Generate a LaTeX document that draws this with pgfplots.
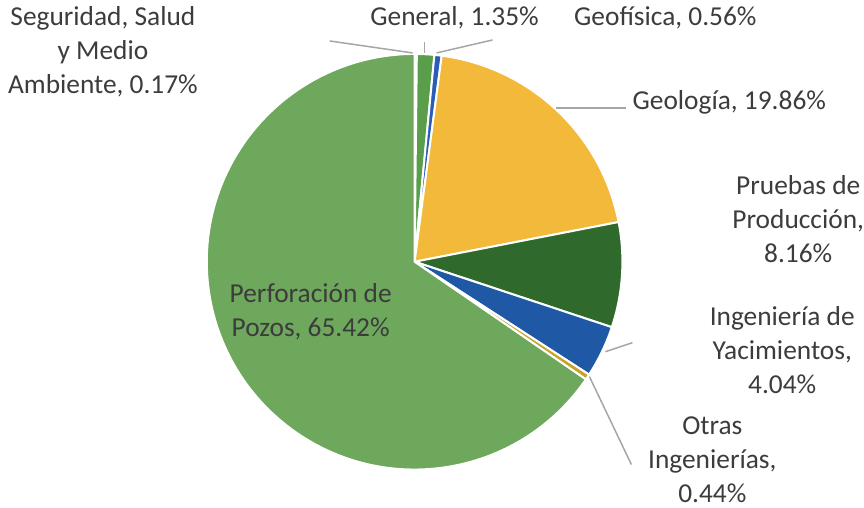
\documentclass[border=0pt]{standalone}
\usepackage{pgfplots}
\pgfplotsset{compat=1.18}
\usepackage{fontspec}
\setmainfont{Carlito}
\definecolor{txt}{HTML}{3C3C3C}
\definecolor{leader}{HTML}{A6A6A6}
\definecolor{cSeg}{HTML}{EEF2EA}
\definecolor{cGen}{HTML}{5A9E4B}
\definecolor{cGeof}{HTML}{2A5DB8}
\definecolor{cGeol}{HTML}{F2B93B}
\definecolor{cPru}{HTML}{2F6A2C}
\definecolor{cIng}{HTML}{1F58A5}
\definecolor{cOtr}{HTML}{C9A227}
\definecolor{cPer}{HTML}{6EA85C}
% wedge: start percent, value percent, colour
\newcommand{\pieslice}[3]{%
  \pgfmathsetmacro{\aS}{90-3.6*#1}%
  \pgfmathsetmacro{\aE}{90-3.6*(#1+#2)}%
  \edef\doslice{\noexpand\fill[#3, draw=white, line width=1pt, line join=round]
    (axis cs:415,246) -- ++(\aS:104pt) arc[start angle=\aS, end angle=\aE, radius=104pt] -- cycle;}%
  \doslice
}
\begin{document}
\begin{tikzpicture}
\begin{axis}[
  x=0.5pt, y=0.5pt,
  xmin=0, xmax=864, ymin=0, ymax=508,
  hide axis, clip=false,
]
\path (axis cs:0,0) rectangle (axis cs:864,508);
% shares (percent), clockwise from 12 o'clock
\pieslice{0}{0.17}{cSeg}
\pieslice{0.17}{1.35}{cGen}
\pieslice{1.52}{0.56}{cGeof}
\pieslice{2.08}{19.86}{cGeol}
\pieslice{21.94}{8.16}{cPru}
\pieslice{30.10}{4.04}{cIng}
\pieslice{34.14}{0.44}{cOtr}
\pieslice{34.58}{65.42}{cPer}
% leader lines
\draw[leader, line width=0.75pt] (axis cs:330,467) -- (axis cs:413,455);
\draw[leader, line width=0.75pt] (axis cs:425,466) -- (axis cs:425,455);
\draw[leader, line width=0.75pt] (axis cs:437,455) -- (axis cs:493,468);
\draw[leader, line width=0.75pt] (axis cs:557,400) -- (axis cs:627,400);
\draw[leader, line width=0.75pt] (axis cs:606,156) -- (axis cs:633,165);
\draw[leader, line width=0.75pt] (axis cs:590,131) -- (axis cs:632,43);
% labels
\tikzset{lbl/.style={text=txt, align=center, inner sep=0pt, font=\fontsize{13.7}{17}\selectfont}}
\node[lbl] at (axis cs:103,456) {Seguridad, Salud\\y Medio\\Ambiente, 0.17\%};
\node[lbl] at (axis cs:455,490) {General, 1.35\%};
\node[lbl] at (axis cs:666,490) {Geofísica, 0.56\%};
\node[lbl] at (axis cs:730,406) {Geología, 19.86\%};
\node[lbl] at (axis cs:799,289) {Pruebas de\\Producción,\\8.16\%};
\node[lbl] at (axis cs:783,158) {Ingeniería de\\Yacimientos,\\4.04\%};
\node[lbl] at (axis cs:713,48) {Otras\\Ingenierías,\\0.44\%};
\node[lbl] at (axis cs:311,196) {Perforación de\\Pozos, 65.42\%};
\end{axis}
\end{tikzpicture}
\end{document}
